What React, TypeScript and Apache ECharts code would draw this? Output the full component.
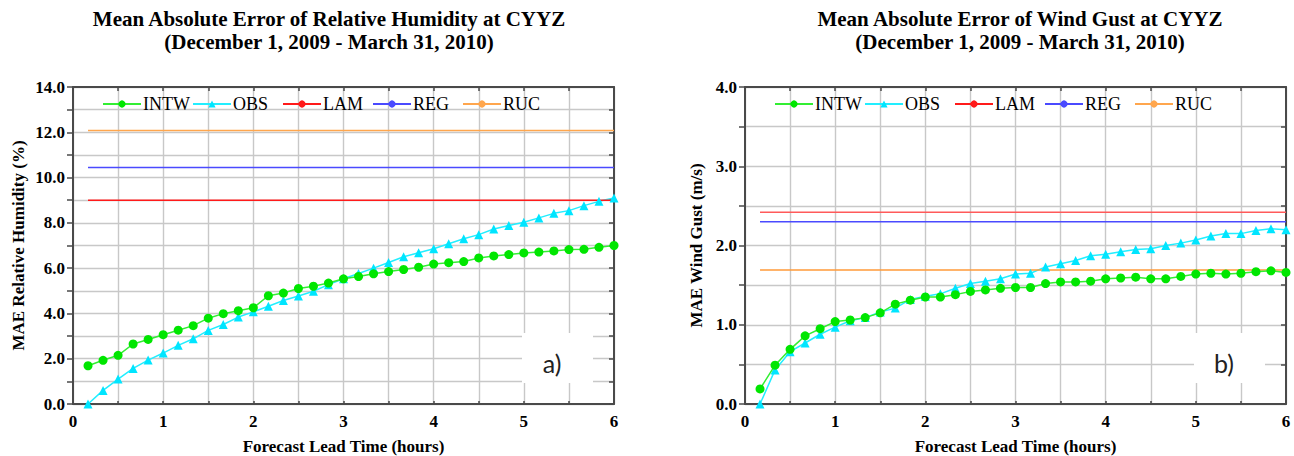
import React, { useEffect, useRef } from "react";
import * as echarts from "echarts";

// Forecast lead times (hours), every 10 minutes
const leadTimes = [
  0.1667, 0.3333, 0.5, 0.6667, 0.8333, 1.0, 1.1667, 1.3333, 1.5, 1.6667, 1.8333, 2.0,
  2.1667, 2.3333, 2.5, 2.6667, 2.8333, 3.0, 3.1667, 3.3333, 3.5, 3.6667, 3.8333, 4.0,
  4.1667, 4.3333, 4.5, 4.6667, 4.8333, 5.0, 5.1667, 5.3333, 5.5, 5.6667, 5.8333, 6.0,
];

// a) Relative humidity MAE (%)
const rhIntw = [
  1.69, 1.93, 2.15, 2.65, 2.85, 3.06, 3.26, 3.46, 3.79, 3.99, 4.12, 4.25,
  4.78, 4.9, 5.1, 5.2, 5.34, 5.53, 5.63, 5.75, 5.85, 5.94, 6.04, 6.18,
  6.24, 6.29, 6.45, 6.54, 6.6, 6.67, 6.71, 6.76, 6.82, 6.83, 6.92, 7.0,
];
const rhObs = [
  0.0, 0.6, 1.1, 1.57, 1.94, 2.25, 2.59, 2.88, 3.25, 3.51, 3.84, 4.07,
  4.32, 4.57, 4.77, 4.98, 5.27, 5.53, 5.76, 6.0, 6.25, 6.5, 6.68, 6.86,
  7.08, 7.3, 7.48, 7.73, 7.88, 8.03, 8.22, 8.42, 8.54, 8.76, 8.95, 9.1,
];
const rhLam = 9.0;
const rhReg = 10.45;
const rhRuc = 12.08;

// b) Wind gust MAE (m/s)
const gustIntw = [
  0.19, 0.49, 0.69, 0.86, 0.95, 1.04, 1.06, 1.09, 1.15, 1.26, 1.31, 1.35,
  1.35, 1.38, 1.42, 1.44, 1.46, 1.47, 1.47, 1.52, 1.54, 1.54, 1.55, 1.58,
  1.59, 1.6, 1.58, 1.58, 1.61, 1.64, 1.65, 1.64, 1.65, 1.67, 1.68, 1.66,
];
const gustObs = [
  0.0, 0.43, 0.66, 0.77, 0.88, 0.97, 1.05, 1.09, 1.16, 1.21, 1.32, 1.36,
  1.39, 1.46, 1.52, 1.55, 1.58, 1.64, 1.65, 1.73, 1.77, 1.81, 1.87, 1.89,
  1.92, 1.95, 1.96, 2.0, 2.03, 2.07, 2.12, 2.15, 2.15, 2.19, 2.21, 2.2,
];
const gustLam = 2.42;
const gustReg = 2.3;
const gustRuc = 1.69;

const legendNames = ["INTW", "OBS", "LAM", "REG", "RUC"];
const xTickLabels = ["0", "1", "2", "3", "4", "5", "6"];

const SERIF = "Liberation Serif";
const GRID_TOP = 87;
const GRID_H = 317;
const GRID_W = 541;
const PANELS = [
  { left: 73, yMax: 14, yInterval: 1, labelEvery: 2, yName: "MAE Relative Humidity (%)", nameGap: 46,
    title: "Mean Absolute Error of Relative Humidity at CYYZ", titleX: 329, tag: "a)",
    intw: rhIntw, obs: rhObs, lam: rhLam, reg: rhReg, ruc: rhRuc,
    colors: { lam: "#ff1a1a", reg: "#4a4aff", ruc: "#ffa64d" } },
  { left: 745, yMax: 4, yInterval: 0.5, labelEvery: 1, yName: "MAE Wind Gust (m/s)", nameGap: 40,
    title: "Mean Absolute Error of Wind Gust at CYYZ", titleX: 1020, tag: "b)",
    intw: gustIntw, obs: gustObs, lam: gustLam, reg: gustReg, ruc: gustRuc,
    colors: { lam: "#ff5a5a", reg: "#4a4aff", ruc: "#ff9a3a" } },
];

const pairs = (vals: number[]) => leadTimes.map((t, i) => [t, vals[i]]);
const constPairs = (v: number) => leadTimes.map((t) => [t, v]);

function buildOption() {
  const grid: any[] = [];
  const xAxis: any[] = [];
  const yAxis: any[] = [];
  const series: any[] = [];
  const legend: any[] = [];
  const graphic: any[] = [];
  const axisColor = "#4a4a4a";
  const gridColor = "#c8c8c8";

  PANELS.forEach((p, gi) => {
    grid.push({
      left: p.left, top: GRID_TOP, width: GRID_W, height: GRID_H,
      containLabel: false, outerBoundsMode: "none",
    });
    xAxis.push({
      type: "value", gridIndex: gi, position: "bottom", min: 0, max: 6, interval: 0.5,
      axisLine: { onZero: false, lineStyle: { color: axisColor, width: 2 } },
      axisTick: { inside: true, length: 3, lineStyle: { color: axisColor, width: 1.5 } },
      axisLabel: {
        margin: 9, color: "#000", fontFamily: SERIF, fontWeight: "bold", fontSize: 17,
        formatter: (v: number) => (Number.isInteger(v) ? xTickLabels[v] : ""),
      },
      splitLine: { show: true, lineStyle: { color: gridColor, width: 1.4 } },
      name: "Forecast Lead Time (hours)", nameLocation: "middle", nameGap: 34,
      nameTextStyle: { color: "#000", fontFamily: SERIF, fontWeight: "bold", fontSize: 17 },
    });
    xAxis.push({
      type: "value", gridIndex: gi, position: "top", min: 0, max: 6, interval: 0.5,
      axisLine: { onZero: false, lineStyle: { color: axisColor, width: 2 } },
      axisTick: { inside: true, length: 4, lineStyle: { color: axisColor, width: 1.5 } },
      axisLabel: { show: false }, splitLine: { show: false },
    });
    yAxis.push({
      type: "value", gridIndex: gi, position: "left", min: 0, max: p.yMax, interval: p.yInterval,
      axisLine: { onZero: false, lineStyle: { color: axisColor, width: 2 } },
      axisTick: { inside: false, length: 6, lineStyle: { color: axisColor, width: 1.5 } },
      axisLabel: {
        margin: 8, color: "#000", fontFamily: SERIF, fontWeight: "bold", fontSize: 17,
        formatter: (v: number) => {
          const r = Math.round(v * 100) / 100;
          return Math.abs(r / p.labelEvery - Math.round(r / p.labelEvery)) < 1e-6 ? r.toFixed(1) : "";
        },
      },
      splitLine: { show: true, lineStyle: { color: gridColor, width: 1.4 } },
      name: p.yName, nameLocation: "middle", nameRotate: 90, nameGap: p.nameGap,
      nameTextStyle: { color: "#000", fontFamily: SERIF, fontWeight: "bold", fontSize: 17 },
    });
    yAxis.push({
      type: "value", gridIndex: gi, position: "right", min: 0, max: p.yMax, interval: p.yInterval,
      axisLine: { onZero: false, lineStyle: { color: axisColor, width: 2 } },
      axisTick: { inside: true, length: 5, lineStyle: { color: axisColor, width: 1.5 } },
      axisLabel: { show: false }, splitLine: { show: false },
    });
    const xi = gi * 2;
    const yi = gi * 2;
    series.push({
      name: "INTW", type: "line", xAxisIndex: xi, yAxisIndex: yi, data: pairs(p.intw),
      symbol: "circle", symbolSize: 9, lineStyle: { color: "#33ee33", width: 1.5 },
      itemStyle: { color: "#00e600" }, z: 4,
    });
    series.push({
      name: "OBS", type: "line", xAxisIndex: xi, yAxisIndex: yi, data: pairs(p.obs),
      symbol: "triangle", symbolSize: 9, lineStyle: { color: "#22eeff", width: 1.5 },
      itemStyle: { color: "#00e5ff" }, z: 3,
    });
    series.push({
      name: "LAM", type: "line", xAxisIndex: xi, yAxisIndex: yi, data: constPairs(p.lam),
      symbol: "none", lineStyle: { color: p.colors.lam, width: 1.5 }, itemStyle: { color: p.colors.lam },
    });
    series.push({
      name: "REG", type: "line", xAxisIndex: xi, yAxisIndex: yi, data: constPairs(p.reg),
      symbol: "none", lineStyle: { color: p.colors.reg, width: 1.5 }, itemStyle: { color: p.colors.reg },
    });
    series.push({
      name: "RUC", type: "line", xAxisIndex: xi, yAxisIndex: yi, data: constPairs(p.ruc),
      symbol: "none", lineStyle: { color: p.colors.ruc, width: 1.5 }, itemStyle: { color: p.colors.ruc },
    });
    legendNames.forEach((n, k) => {
      legend.push({
        data: [n], left: p.left + 29 + k * 90, top: 95, padding: 0, itemWidth: 38, itemHeight: 9,
        itemGap: 0, selectedMode: false,
        textStyle: { color: "#000", fontFamily: SERIF, fontSize: 18, padding: [0, 0, 0, -3] },
      });
    });
    graphic.push({
      type: "text", x: p.titleX, y: 7, z: 10,
      style: {
        text: p.title + "\n(December 1, 2009 - March 31, 2010)", align: "center", verticalAlign: "top",
        fontFamily: SERIF, fontWeight: "bold", fontSize: 21, lineHeight: 23, fill: "#000",
      },
    });
    graphic.push({
      type: "rect", x: p.left + 449, y: 333, z: 1,
      shape: { width: 71, height: 50 }, style: { fill: "#ffffff" },
    });
    graphic.push({
      type: "text", x: p.left + 479, y: 363, z: 2,
      style: { text: p.tag, align: "center", verticalAlign: "middle", fontFamily: "Lato", fontSize: 25, fill: "#222" },
    });
  });

  return { animation: false, backgroundColor: "#ffffff", grid, xAxis, yAxis, series, legend, graphic };
}

export default function App() {
  const ref = useRef<HTMLDivElement>(null);
  useEffect(() => {
    if (!ref.current) return;
    const chart = echarts.init(ref.current, null, { renderer: "svg" });
    chart.setOption(buildOption() as any);
    return () => chart.dispose();
  }, []);
  return <div ref={ref} style={{ position: "absolute", left: 0, top: 0, width: 1294, height: 456 }} />;
}
